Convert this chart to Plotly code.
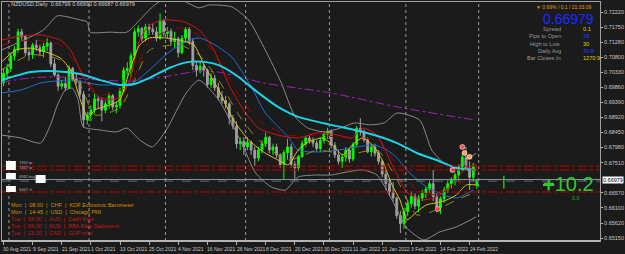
import plotly.graph_objects as go

# ---------------- data ----------------
bar_idx = list(range(131))  # 30 Aug 2021 .. 28 Feb 2022 (daily bars)

opens = [0.7000,0.7030,0.7045,0.7085,0.7105,0.7160,0.7145,0.7095,0.7088,0.7118,
         0.7110,0.7098,0.7115,0.7125,0.7060,0.7025,0.6990,0.6998,0.6985,0.7045,
         0.7012,0.7005,0.6965,0.6885,0.6900,0.6915,0.6950,0.6945,0.6915,0.6935,
         0.6960,0.6925,0.6930,0.6975,0.7040,0.7045,0.7085,0.7160,0.7170,0.7140,
         0.7175,0.7168,0.7160,0.7140,0.7195,0.7155,0.7162,0.7130,0.7138,0.7095,
         0.7140,0.7168,0.7130,0.7055,0.7040,0.7052,0.7040,0.6995,0.7015,0.6985,
         0.6955,0.6945,0.6935,0.6890,0.6865,0.6810,0.6818,0.6800,0.6815,0.6790,
         0.6765,0.6790,0.6810,0.6830,0.6790,0.6800,0.6775,0.6745,0.6782,0.6800,
         0.6745,0.6735,0.6770,0.6810,0.6828,0.6820,0.6812,0.6795,0.6820,0.6840,
         0.6848,0.6805,0.6775,0.6755,0.6768,0.6790,0.6762,0.6808,0.6858,0.6848,
         0.6822,0.6785,0.6800,0.6780,0.6755,0.6715,0.6685,0.6660,0.6640,0.6585,
         0.6560,0.6598,0.6622,0.6645,0.6615,0.6640,0.6655,0.6668,0.6685,0.6645,
         0.6610,0.6638,0.6665,0.6685,0.6698,0.6712,0.6738,0.6768,0.6732,0.6705,
         0.66799]
highs = [0.7045,0.7060,0.7095,0.7115,0.7170,0.7170,0.7150,0.7110,0.7125,0.7135,
         0.7120,0.7125,0.7140,0.7130,0.7075,0.7030,0.7010,0.7020,0.7055,0.7050,
         0.7030,0.7010,0.6975,0.6910,0.6930,0.6965,0.6960,0.6955,0.6945,0.6970,
         0.6965,0.6940,0.6985,0.7050,0.7065,0.7095,0.7170,0.7180,0.7175,0.7185,
         0.7185,0.7185,0.7175,0.7218,0.7200,0.7175,0.7170,0.7160,0.7145,0.7150,
         0.7175,0.7175,0.7140,0.7065,0.7070,0.7060,0.7045,0.7030,0.7025,0.7000,
         0.6975,0.6960,0.6940,0.6900,0.6880,0.6830,0.6830,0.6830,0.6820,0.6800,
         0.6800,0.6820,0.6845,0.6835,0.6810,0.6810,0.6780,0.6790,0.6825,0.6810,
         0.6755,0.6775,0.6820,0.6835,0.6835,0.6830,0.6820,0.6830,0.6850,0.6860,
         0.6855,0.6815,0.6790,0.6775,0.6800,0.6795,0.6815,0.6865,0.6890,0.6855,
         0.6830,0.6810,0.6810,0.6790,0.6760,0.6730,0.6700,0.6690,0.6645,0.6600,
         0.6610,0.6635,0.6660,0.6655,0.6650,0.6665,0.6675,0.6695,0.6728,0.6655,
         0.6645,0.6675,0.6695,0.6705,0.6720,0.6745,0.6775,0.6800,0.6755,0.6750,
         0.66990]
lows = [0.6990,0.7010,0.7035,0.7070,0.7095,0.7135,0.7085,0.7070,0.7075,0.7100,
        0.7085,0.7080,0.7100,0.7050,0.7020,0.6975,0.6980,0.6975,0.6980,0.7005,
        0.6995,0.6955,0.6860,0.6870,0.6880,0.6905,0.6920,0.6880,0.6905,0.6920,
        0.6915,0.6905,0.6920,0.6970,0.7025,0.7020,0.7075,0.7145,0.7130,0.7130,
        0.7150,0.7150,0.7130,0.7135,0.7145,0.7140,0.7120,0.7110,0.7080,0.7090,
        0.7130,0.7120,0.7040,0.7020,0.7030,0.7020,0.6985,0.6985,0.6975,0.6945,
        0.6935,0.6920,0.6870,0.6855,0.6795,0.6790,0.6775,0.6790,0.6775,0.6740,
        0.6755,0.6780,0.6800,0.6780,0.6775,0.6765,0.6735,0.6700,0.6760,0.6735,
        0.6700,0.6725,0.6765,0.6800,0.6810,0.6800,0.6785,0.6785,0.6810,0.6825,
        0.6795,0.6765,0.6745,0.6735,0.6755,0.6750,0.6755,0.6800,0.6835,0.6815,
        0.6780,0.6770,0.6770,0.6745,0.6705,0.6665,0.6645,0.6630,0.6575,0.6530,
        0.6545,0.6585,0.6610,0.6605,0.6595,0.6630,0.6640,0.6655,0.6630,0.6595,
        0.6590,0.6625,0.6655,0.6670,0.6680,0.6700,0.6725,0.6725,0.6665,0.6690,
        0.66687]
closes = [0.7030,0.7045,0.7085,0.7105,0.7160,0.7145,0.7095,0.7088,0.7118,0.7110,
          0.7098,0.7115,0.7125,0.7060,0.7025,0.6990,0.6998,0.6985,0.7045,0.7012,
          0.7005,0.6965,0.6885,0.6900,0.6915,0.6950,0.6945,0.6915,0.6935,0.6960,
          0.6925,0.6930,0.6975,0.7040,0.7045,0.7085,0.7160,0.7170,0.7140,0.7175,
          0.7168,0.7160,0.7140,0.7195,0.7155,0.7162,0.7130,0.7138,0.7095,0.7140,
          0.7168,0.7130,0.7055,0.7040,0.7052,0.7040,0.6995,0.7015,0.6985,0.6955,
          0.6945,0.6935,0.6890,0.6865,0.6810,0.6818,0.6800,0.6815,0.6790,0.6765,
          0.6790,0.6810,0.6830,0.6790,0.6800,0.6775,0.6745,0.6782,0.6800,0.6745,
          0.6735,0.6770,0.6810,0.6828,0.6820,0.6812,0.6795,0.6820,0.6840,0.6848,
          0.6805,0.6775,0.6755,0.6768,0.6790,0.6762,0.6808,0.6858,0.6848,0.6822,
          0.6785,0.6800,0.6780,0.6755,0.6715,0.6685,0.6660,0.6640,0.6585,0.6560,
          0.6598,0.6622,0.6645,0.6615,0.6640,0.6655,0.6668,0.6685,0.6645,0.6610,
          0.6638,0.6665,0.6685,0.6698,0.6712,0.6738,0.6768,0.6732,0.6705,0.6742,
          0.66979]

# indicator lines (bar index, price)
cyan_idx = [-0.5,7.5,14.3,21.1,26.5,31.9,36.0,40.1,45.5,51.0,55.1,59.1,63.8,70.0,75.4,80.9,89.9,96.4,101.8,108.1,113.5,118.9,124.4,129.8]
cyan_val = [0.7009,0.7034,0.7037,0.7028,0.7009,0.6994,0.6997,0.7016,0.7047,0.7066,0.7066,0.7056,0.7025,0.6969,0.6925,0.6894,0.6869,0.6853,0.6837,0.6812,0.6781,0.6759,0.6734,0.6728]

purple_idx = [-0.5,7.5,15.6,26.5,35.5,45.5,53.7,59.1,71.9,89.9,108.1,126.3,129.8]
purple_val = [0.7003,0.7016,0.7019,0.7009,0.7006,0.7022,0.7037,0.7034,0.6999,0.6969,0.6925,0.6890,0.6884]

blue_idx = [-0.5,4.8,10.2,18.4,26.5,35.5,40.1,45.5,51.0,53.7,57.2,62.7,68.1,71.9,78.2,80.9,86.3,91.8,97.2,101.8,105.4,108.1,111.6,116.2,120.9,124.4,129.0]
blue_val = [0.6969,0.6978,0.7000,0.7009,0.6994,0.7000,0.7041,0.7097,0.7134,0.7141,0.7125,0.7081,0.6987,0.6906,0.6831,0.6790,0.6784,0.6790,0.6800,0.6806,0.6790,0.6765,0.6718,0.6675,0.6650,0.6640,0.6665]

bb_up_idx = [-0.5,11.0,14.8,21.1,23.0,23.8,29.2,33.9,37.4,40.9,42.8,46.9,53.7,56.4,62.7,67.3,71.9,76.3,80.1,83.6,88.2,92.6,96.4,100.7,104.5,108.1,114.3,117.6,120.9,124.4,128.0,129.8]
bb_up_val = [0.7103,0.7166,0.7210,0.7197,0.7191,0.7159,0.7159,0.7159,0.7197,0.7238,0.7254,0.7269,0.7235,0.7244,0.7238,0.7197,0.7103,0.7000,0.6894,0.6859,0.6847,0.6859,0.6875,0.6869,0.6875,0.6906,0.6884,0.6790,0.6750,0.6737,0.6765,0.6781]

bb_lo_idx = [-0.5,4.8,10.2,12.9,14.8,17.0,18.9,20.5,21.9,26.5,31.1,33.9,37.4,40.9,44.7,50.2,53.7,59.1,65.4,69.2,73.5,77.4,80.9,85.5,89.9,94.5,98.6,102.6,106.7,110.8,115.4,119.8,124.4,129.8]
bb_lo_val = [0.6837,0.6828,0.6812,0.6869,0.6931,0.6978,0.6984,0.6947,0.6863,0.6853,0.6847,0.6859,0.6822,0.6800,0.6853,0.6969,0.7009,0.6947,0.6812,0.6719,0.6675,0.6665,0.6706,0.6712,0.6712,0.6722,0.6728,0.6712,0.6634,0.6546,0.6509,0.6534,0.6550,0.6581]

yellow_idx = [-0.5,3.4,7.5,11.6,15.6,18.4,21.1,23.2,25.1,29.2,31.9,34.7,37.4,40.1,44.2,48.3,52.3,55.1,59.1,63.2,67.3,71.4,75.4,78.2,80.9,83.6,87.7,90.4,93.1,95.8,98.6,101.3,104.0,106.7,108.9,110.8,113.5,116.2,118.9,121.7,124.4,127.1,129.8]
yellow_val = [0.7066,0.7103,0.7109,0.7097,0.7078,0.7041,0.6947,0.6891,0.6916,0.6931,0.6947,0.7041,0.7119,0.7141,0.7141,0.7134,0.7119,0.7056,0.6978,0.6884,0.6822,0.6784,0.6759,0.6744,0.6790,0.6815,0.6828,0.6806,0.6775,0.6806,0.6828,0.6806,0.6759,0.6681,0.6634,0.6572,0.6597,0.6619,0.6625,0.6634,0.6650,0.6681,0.6681]

olive_idx = [-0.5,7.5,15.6,21.1,25.1,31.9,36.0,40.1,48.3,53.7,59.1,64.6,70.0,78.2,86.3,94.5,102.6,108.1,113.5,118.9,124.4,129.8]
olive_val = [0.7041,0.7088,0.7072,0.6994,0.6900,0.6922,0.7009,0.7103,0.7119,0.7088,0.7009,0.6900,0.6822,0.6759,0.6790,0.6775,0.6790,0.6697,0.6587,0.6603,0.6634,0.6659]

red_idx = [-0.5,4.8,10.2,15.6,18.4,22.4,26.5,31.9,34.7,37.4,40.1,44.2,49.6,53.7,57.8,61.9,65.9,70.0,75.4,80.9,86.3,91.8,95.8,98.6,102.6,106.7,110.8,114.9,118.9,123.0,127.1,129.8]
red_val = [0.7134,0.7147,0.7150,0.7134,0.7103,0.7009,0.6953,0.6953,0.7009,0.7134,0.7181,0.7197,0.7191,0.7166,0.7103,0.6994,0.6916,0.6859,0.6837,0.6828,0.6844,0.6837,0.6828,0.6859,0.6837,0.6744,0.6659,0.6634,0.6643,0.6681,0.6734,0.6744]

darkred_idx = [-0.5,7.5,15.6,21.1,26.5,34.7,40.1,48.3,53.7,59.1,64.6,70.0,78.2,86.3,94.5,102.6,108.1,113.5,118.9,124.4,129.8]
darkred_val = [0.7119,0.7134,0.7119,0.7041,0.6963,0.6994,0.7134,0.7172,0.7150,0.7072,0.6963,0.6884,0.6837,0.6837,0.6828,0.6822,0.6744,0.6665,0.6650,0.6681,0.6712]

# trade marks
trade_idx = [126.0, 126.6, 128.0, 123.3, 119.3]
trade_val = [0.6800, 0.6781, 0.6769, 0.6728, 0.6606]
trade_col = ['#ff5050', '#ffa060', '#ffa060', '#ff6060', '#ff4040']

# horizontal levels
level_red = [0.6740, 0.6728, 0.6659]
bid_price = 0.66979
ask_line = 0.6693

# month separators (bar index of first bar of month)
sep_idx = [2, 24, 45, 67, 90, 111, 131]

# x axis labels
xlab_idx = [0, 8, 16, 24, 32, 40, 48, 56, 64, 72, 80, 88, 96, 104, 112, 120, 128]
xlab_txt = ['30 Aug 2021', '9 Sep 2021', '21 Sep 2021', '1 Oct 2021', '13 Oct 2021', '25 Oct 2021',
            '4 Nov 2021', '16 Nov 2021', '26 Nov 2021', '8 Dec 2021', '20 Dec 2021', '30 Dec 2021',
            '11 Jan 2022', '21 Jan 2022', '3 Feb 2022', '14 Feb 2022', '24 Feb 2022']

# y axis ticks
ytick_val = [0.72220, 0.71750, 0.71280, 0.70800, 0.70330, 0.69860, 0.69390, 0.68920,
             0.68450, 0.67980, 0.67510, 0.66570, 0.66100, 0.65620, 0.65150]

# info panel
info_labels = ['Spread', 'Pips to Open', 'High to Low', 'Daily Avg', 'Bar Closes In']
info_values = ['0.1', '18', '30', '70.8', '1270:9']
info_colors = ['#e6c800', '#2040ff', '#e6c800', '#2040ff', '#e6c800']

events = ['Mon  |  08:00  |  CHF  |  KOF Economic Barometer',
          'Mon  |  14:45  |  USD  |  Chicago PMI',
          'Tue  |  03:30  |  AUD  |  Cash Rate',
          'Tue  |  03:30  |  AUD  |  RBA Rate Statement',
          'Tue  |  13:30  |  CAD  |  GDP m/m']
event_colors = ['#d09000', '#d09000', '#d01010', '#d01010', '#d01010']

# ---------------- figure ----------------
W, H = 625, 254
ML, MR, MT, MB = 1, 20, 2, 13
PW, PH = W - ML - MR, H - MT - MB
FONT = 'Liberation Sans, Arial, sans-serif'
BG = '#1b1b1b'


def px_x(px):
    return (px - ML) / PW


def px_y(py):
    return (H - MB - py) / PH


fig = go.Figure()


def add_line(xs, ys, color, width=1, dash='solid'):
    fig.add_trace(go.Scatter(x=xs, y=ys, mode='lines', hoverinfo='skip',
                             line=dict(color=color, width=width, dash=dash, shape='spline', smoothing=0.6)))


add_line(bb_up_idx, bb_up_val, '#8a8a8a')
add_line(bb_lo_idx, bb_lo_val, '#8a8a8a')
add_line(purple_idx, purple_val, '#a020c0', 1, 'dashdot')
add_line(blue_idx, blue_val, '#1f6fd0')
add_line(darkred_idx, darkred_val, '#a00000', 1, 'dash')
add_line(red_idx, red_val, '#d81010')
add_line(olive_idx, olive_val, '#9a8a10', 1, 'dash')
add_line(yellow_idx, yellow_val, '#d8c818')

fig.add_trace(go.Candlestick(
    x=bar_idx, open=opens, high=highs, low=lows, close=closes,
    increasing=dict(line=dict(color='#00ff00', width=1), fillcolor='#00ff00'),
    decreasing=dict(line=dict(color='#a0a0a0', width=1), fillcolor='#a0a0a0'),
    whiskerwidth=0, hoverinfo='skip'))

add_line(cyan_idx, cyan_val, '#19d3e8', 2)

fig.add_trace(go.Scatter(x=trade_idx, y=trade_val, mode='markers', hoverinfo='skip',
                         marker=dict(size=5, color=trade_col, line=dict(color='#ffffff', width=0.5))))

# small green marks on the right
fig.add_trace(go.Scatter(x=[137.4], y=[0.6690], mode='markers', hoverinfo='skip',
                         marker=dict(symbol='line-ns', size=9, line=dict(color='#20c020', width=1.5))))
fig.add_trace(go.Scatter(x=[149.7], y=[0.6681], mode='markers', hoverinfo='skip',
                         marker=dict(symbol='cross-thin', size=8, line=dict(color='#30d030', width=2))))

shapes = []
for s in sep_idx:
    shapes.append(dict(type='line', xref='x', yref='paper', x0=s - 0.5, x1=s - 0.5, y0=0, y1=1,
                       line=dict(color='#9a9a9a', width=1, dash='dot')))
for lv in level_red:
    shapes.append(dict(type='line', xref='paper', yref='y', x0=0, x1=1, y0=lv, y1=lv,
                       line=dict(color='#c00000', width=1, dash='dashdot')))
shapes.append(dict(type='line', xref='paper', yref='y', x0=0, x1=1, y0=bid_price, y1=bid_price,
                   line=dict(color='#8f9aa6', width=1)))
shapes.append(dict(type='line', xref='paper', yref='y', x0=0, x1=1, y0=ask_line, y1=ask_line,
                   line=dict(color='#5f6a75', width=1, dash='dash')))
shapes.append(dict(type='line', xref='paper', yref='paper', x0=0, x1=1, y0=px_y(241), y1=px_y(241),
                   line=dict(color='#b4b4b4', width=2)))

annotations = []
for i, t in zip(xlab_idx, xlab_txt):
    annotations.append(dict(x=i, y=0, xref='x', yref='paper', text=t, showarrow=False,
                            xanchor='left', yanchor='top', xshift=-2, yshift=-3,
                            font=dict(family=FONT, size=5, color='#c8c8c8')))

annotations.append(dict(x=1, y=bid_price, xref='paper', yref='y', text='0.66979', showarrow=False,
                        xanchor='left', yanchor='middle', xshift=2, bgcolor='#ffffff', borderpad=0,
                        font=dict(family=FONT, size=5.5, color='#000000')))

annotations.append(dict(x=px_x(8), y=px_y(4), xref='paper', yref='paper', showarrow=False,
                        text='NZDUSD,Daily  0.66799 0.66990 0.66687 0.66979', xanchor='left',
                        yanchor='middle', font=dict(family=FONT, size=5.5, color='#d0d0d0')))

annotations.append(dict(x=px_x(598), y=px_y(6.5), xref='paper', yref='paper', showarrow=False,
                        text='▼ 0.69% / 0.1 / 21:33:09', xanchor='right', yanchor='middle',
                        font=dict(family=FONT, size=5, color='#e09a00')))
annotations.append(dict(x=px_x(601), y=px_y(19), xref='paper', yref='paper', showarrow=False,
                        text='0.66979', xanchor='right', yanchor='middle',
                        font=dict(family=FONT, size=14, color='#1a2cff')))
for k, (lab, val, col) in enumerate(zip(info_labels, info_values, info_colors)):
    yy = 29 + k * 7.3
    annotations.append(dict(x=px_x(568), y=px_y(yy), xref='paper', yref='paper', showarrow=False,
                            text=lab, xanchor='right', yanchor='middle',
                            font=dict(family=FONT, size=5.6, color='#9a9a9a')))
    annotations.append(dict(x=px_x(586), y=px_y(yy), xref='paper', yref='paper', showarrow=False,
                            text=val, xanchor='left', yanchor='middle',
                            font=dict(family=FONT, size=5.6, color=col)))

for k, (ev, col) in enumerate(zip(events, event_colors)):
    annotations.append(dict(x=px_x(8), y=px_y(205 + k * 7), xref='paper', yref='paper', showarrow=False,
                            text=ev, xanchor='left', yanchor='middle',
                            font=dict(family=FONT, size=5.5, color=col)))

annotations.append(dict(x=px_x(573), y=px_y(184), xref='paper', yref='paper', showarrow=False,
                        text='+10.2', xanchor='center', yanchor='middle',
                        font=dict(family=FONT, size=20, color='#32c832')))
annotations.append(dict(x=px_x(581), y=px_y(198), xref='paper', yref='paper', showarrow=False,
                        text='0.0', xanchor='center', yanchor='middle',
                        font=dict(family=FONT, size=5.5, color='#32a832')))

# trade-level labels on the left
lvl_lab_y = [163, 168, 176, 189]
lvl_lab_txt = ['7492 tp', '7467 tp', '6982 buy', '6467 sl']
box_rows = [(161, 170), (173, 179), (186, 192)]
for y0b, y1b in box_rows:
    shapes.append(dict(type='rect', xref='paper', yref='paper', x0=px_x(5), x1=px_x(15),
                       y0=px_y(y1b), y1=px_y(y0b), fillcolor='#ffffff', line=dict(width=0)))
for yy, tx in zip(lvl_lab_y, lvl_lab_txt):
    annotations.append(dict(x=px_x(16), y=px_y(yy), xref='paper', yref='paper', showarrow=False,
                            text=tx, xanchor='left', yanchor='middle',
                            font=dict(family=FONT, size=4, color='#b0b0b0')))
shapes.append(dict(type='rect', xref='paper', yref='paper', x0=px_x(35), x1=px_x(45),
                   y0=px_y(183), y1=px_y(175), fillcolor='#ffffff', line=dict(width=0)))

x0 = -1.5 / 3.678
fig.update_layout(
    width=W, height=H, margin=dict(l=ML, r=MR, t=MT, b=MB),
    paper_bgcolor=BG, plot_bgcolor=BG, showlegend=False,
    shapes=shapes, annotations=annotations,
    xaxis=dict(range=[x0, x0 + PW / 3.678], showgrid=False, zeroline=False,
               rangeslider=dict(visible=False), tickmode='array', tickvals=xlab_idx,
               showticklabels=False, ticks='outside', ticklen=3, tickcolor='#b0b0b0',
               showline=True, linecolor='#a0a0a0', mirror=True, fixedrange=True),
    yaxis=dict(range=[0.650569, 0.725328], side='right', showgrid=False, zeroline=False,
               tickmode='array', tickvals=ytick_val, ticktext=['%.5f' % v for v in ytick_val],
               ticks='outside', ticklen=2, tickcolor='#b0b0b0',
               tickfont=dict(family=FONT, size=5.5, color='#c8c8c8'),
               showline=True, linecolor='#a0a0a0', mirror=True, fixedrange=True),
)

fig.write_html('out.html')
